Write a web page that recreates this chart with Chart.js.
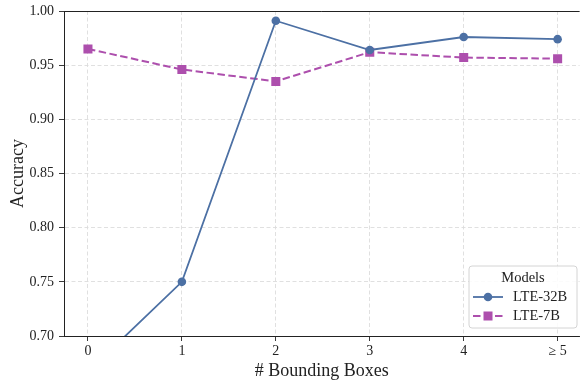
<!DOCTYPE html>
<html>
<head>
<meta charset="utf-8">
<script src="https://cdn.jsdelivr.net/npm/chart.js@4.4.1/dist/chart.umd.min.js"></script>
<style>
  html, body { margin: 0; padding: 0; background: #ffffff; overflow: hidden; }
  #wrap { width: 580px; height: 380px; overflow: hidden; }
  canvas { display: block; }
</style>
</head>
<body>
<div id="wrap"><canvas id="c" width="586" height="380"></canvas></div>
<script>
// ---- data ----
const categories = ['0', '1', '2', '3', '4', '\u2265 5'];
const lte32b = [0.667, 0.750, 0.991, 0.964, 0.976, 0.974];
const lte7b  = [0.965, 0.946, 0.935, 0.962, 0.957, 0.956];
const yTicks = [0.70, 0.75, 0.80, 0.85, 0.90, 0.95, 1.00];
const seriesNames = ['LTE-32B', 'LTE-7B'];
const legendTitle = 'Models';
const xTitle = '# Bounding Boxes';
const yTitle = 'Accuracy';

const SERIF = '"Liberation Serif", "Times New Roman", serif';
const BLUE = '#4c70a4';
const PURPLE = '#ad4fad';

const toPoints = arr => arr.map((v, i) => ({ x: i, y: v }));

const legendPlugin = {
  id: 'boxLegend',
  afterDraw(chart) {
    const ctx = chart.ctx;
    const ca = chart.chartArea;
    // top spine
    ctx.save();
    ctx.strokeStyle = '#222';
    ctx.lineWidth = 1;
    ctx.beginPath();
    ctx.moveTo(ca.left, ca.top + 0.5);
    ctx.lineTo(ca.right, ca.top + 0.5);
    ctx.stroke();

    // legend box
    const x0 = 469, y0 = 266, w = 108, h = 62, r = 3;
    ctx.beginPath();
    ctx.moveTo(x0 + r, y0);
    ctx.lineTo(x0 + w - r, y0);
    ctx.quadraticCurveTo(x0 + w, y0, x0 + w, y0 + r);
    ctx.lineTo(x0 + w, y0 + h - r);
    ctx.quadraticCurveTo(x0 + w, y0 + h, x0 + w - r, y0 + h);
    ctx.lineTo(x0 + r, y0 + h);
    ctx.quadraticCurveTo(x0, y0 + h, x0, y0 + h - r);
    ctx.lineTo(x0, y0 + r);
    ctx.quadraticCurveTo(x0, y0, x0 + r, y0);
    ctx.closePath();
    ctx.fillStyle = 'rgba(255,255,255,0.85)';
    ctx.fill();
    ctx.strokeStyle = '#d4d4d4';
    ctx.lineWidth = 1;
    ctx.stroke();

    ctx.fillStyle = '#222';
    ctx.font = '14.5px ' + SERIF;
    ctx.textBaseline = 'middle';
    ctx.textAlign = 'center';
    ctx.fillText(legendTitle, x0 + w / 2, 278);

    const ds = chart.data.datasets;
    const rows = [297, 316];
    ds.forEach((d, i) => {
      const yy = rows[i];
      ctx.save();
      ctx.strokeStyle = d.borderColor;
      ctx.lineWidth = d.borderWidth;
      ctx.setLineDash(d.borderDash || []);
      ctx.beginPath();
      ctx.moveTo(473, yy);
      ctx.lineTo(503, yy);
      ctx.stroke();
      ctx.restore();
      ctx.fillStyle = d.backgroundColor;
      if (d.pointStyle === 'rect') {
        ctx.fillRect(488 - 4.5, yy - 4.5, 9, 9);
      } else {
        ctx.beginPath();
        ctx.arc(488, yy, 4.3, 0, Math.PI * 2);
        ctx.fill();
      }
      ctx.fillStyle = '#222';
      ctx.textAlign = 'left';
      ctx.fillText(d.label, 513, yy + 0.5);
    });
    ctx.restore();
  }
};

const gridOpts = {
  color: '#dcdcdc',
  lineWidth: 0.9,
  tickColor: '#222',
  tickBorderDash: [],
  tickLength: 5,
  drawTicks: true
};
const borderOpts = { display: true, color: '#222', width: 1, dash: [4, 2.5] };

new Chart(document.getElementById('c'), {
  type: 'line',
  data: {
    datasets: [
      {
        label: seriesNames[0],
        data: toPoints(lte32b),
        borderColor: BLUE,
        backgroundColor: BLUE,
        borderWidth: 1.8,
        pointStyle: 'circle',
        pointRadius: 4.3,
        pointHoverRadius: 4.3,
        pointBorderWidth: 0,
        tension: 0
      },
      {
        label: seriesNames[1],
        data: toPoints(lte7b),
        borderColor: PURPLE,
        backgroundColor: PURPLE,
        borderWidth: 2,
        borderDash: [7.5, 3.5],
        pointStyle: 'rect',
        pointRadius: 6.4,
        pointHoverRadius: 6.4,
        pointBorderWidth: 0,
        tension: 0
      }
    ]
  },
  options: {
    responsive: false,
    animation: false,
    devicePixelRatio: 1,
    layout: { padding: { top: 11, right: 0, bottom: 0, left: 0 } },
    plugins: {
      legend: { display: false },
      tooltip: { enabled: false }
    },
    scales: {
      x: {
        type: 'linear',
        min: -0.255,
        max: 5.234,
        afterBuildTicks: s => { s.ticks = categories.map((c, i) => ({ value: i })); },
        afterFit: s => { s.height = 44; s.paddingLeft = 0; s.paddingRight = 0; },
        ticks: {
          callback: v => categories[v],
          font: { family: SERIF, size: 14 },
          color: '#222',
          padding: 2,
          maxRotation: 0,
          autoSkip: false
        },
        grid: gridOpts,
        border: borderOpts,
        title: {
          display: true,
          text: xTitle,
          font: { family: SERIF, size: 18, lineHeight: 1 },
          color: '#222',
          padding: { top: 0, bottom: 0 }
        }
      },
      y: {
        type: 'linear',
        min: 0.70,
        max: 1.00,
        afterBuildTicks: s => { s.ticks = yTicks.map(v => ({ value: v })); },
        afterFit: s => { s.width = 64; s.paddingTop = 0; s.paddingBottom = 0; },
        ticks: {
          callback: v => Number(v).toFixed(2),
          font: { family: SERIF, size: 14 },
          color: '#222',
          padding: 5
        },
        grid: gridOpts,
        border: borderOpts,
        title: {
          display: true,
          text: yTitle,
          font: { family: SERIF, size: 18, lineHeight: 1 },
          color: '#222',
          padding: { top: 9, bottom: 0 }
        }
      }
    }
  },
  plugins: [legendPlugin]
});
</script>
</body>
</html>
